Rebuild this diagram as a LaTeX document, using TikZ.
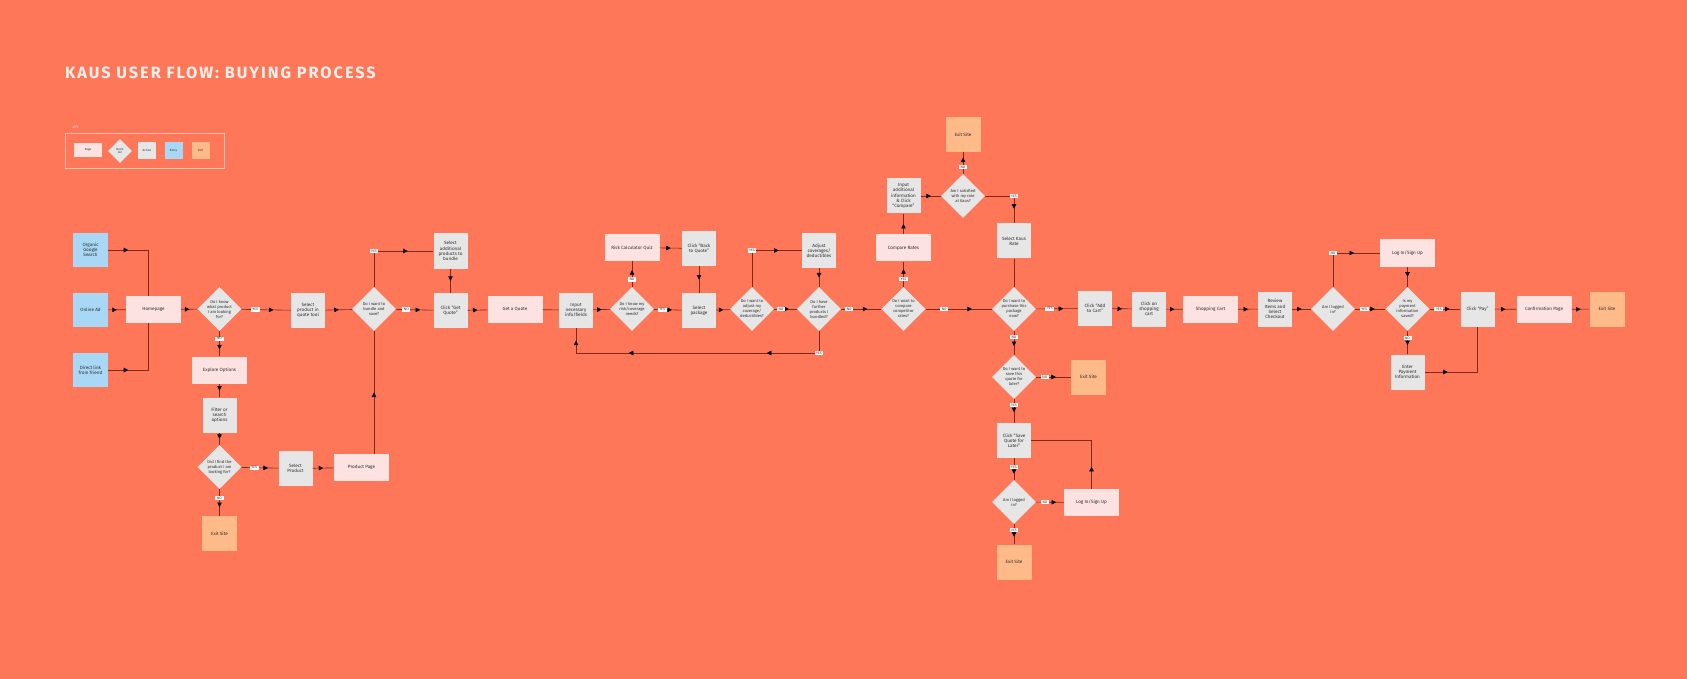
\documentclass[tikz,border=0pt]{standalone}
\usepackage{fontspec}
\setmainfont{Fira Sans}
\newfontfamily\titlefont[LetterSpace=12]{Fira Sans}
\usetikzlibrary{shapes.geometric,decorations.markings,arrows.meta}
\definecolor{bgc}{HTML}{FF7759}
\definecolor{pagec}{HTML}{FDE2E2}
\definecolor{actc}{HTML}{E6E6E6}
\definecolor{entryc}{HTML}{A8D8F6}
\definecolor{exitc}{HTML}{FFBA8A}
\definecolor{linec}{HTML}{7F2A18}
\definecolor{txtc}{HTML}{2B2B2B}
\definecolor{titlec}{HTML}{FFF1EA}
\tikzset{%
	box/.style = {align=center,inner sep=1pt,text=txtc,font=\fontsize{4.6}{5.2}\selectfont},
	page/.style = {box,fill=pagec,minimum width=55pt,minimum height=27pt},
	action/.style = {box,fill=actc,minimum width=34pt,minimum height=35pt},
	entry/.style = {box,fill=entryc,minimum width=35pt,minimum height=34pt},
	exitbox/.style = {box,fill=exitc,minimum width=35pt,minimum height=35pt},
	decision/.style = {diamond,aspect=1,fill=actc,align=center,inner sep=0pt,text=txtc,
		minimum width=44pt,minimum height=44pt,font=\fontsize{4.1}{5}\selectfont},
	flow/.style = {draw=linec,line width=0.6pt},
	arrowat/.style = {postaction={decorate,decoration={markings,
		mark=at position #1 with {\arrow[black]{Triangle[length=4.5pt,width=4.5pt]}}}}},
	arrowat/.default = 0.5,
	lbl/.style = {fill=white,inner xsep=1.6pt,inner ysep=0.9pt,text=txtc,font=\fontsize{3.5}{4}\selectfont},
	keyitem/.style = {font=\fontsize{3}{3.5}\selectfont}%
}
\begin{document}
\begin{tikzpicture}[x=1pt,y=-1pt]
	\useasboundingbox (0,0) rectangle (1687,679);
	\fill[bgc] (0,0) rectangle (1687,679);
	\node[anchor=base west,inner sep=0pt,text=titlec,font=\titlefont\bfseries\fontsize{16.3}{18}\selectfont] (title) at (65,79) {KAUS USER FLOW: BUYING PROCESS};
	
	% key
	\node[anchor=west,text=titlec,font=\fontsize{3.5}{4}\selectfont] (keytitle) at (69,127) {KEY};
	\draw[draw=titlec!60!bgc,line width=0.5pt] (65,133) rectangle (224,168);
	\node[page,keyitem,minimum width=28pt,minimum height=14pt] (keypage) at (88,150) {Page};
	\node[decision,keyitem,minimum width=24pt,minimum height=24pt] (keydecision) at (120,151) {Decis\\ion};
	\node[action,keyitem,minimum width=18pt,minimum height=17pt] (keyaction) at (147,150.5) {Action};
	\node[entry,keyitem,minimum width=18pt,minimum height=17pt] (keyentry) at (173.5,150.5) {Entry};
	\node[exitbox,keyitem,minimum width=18pt,minimum height=17pt] (keyexit) at (200.5,150.5) {Exit};
	
	% main row
	\node[entry] (organic) at (90.5,250) {Organic\\Google\\Search};
	\node[entry] (onlinead) at (90.5,310) {Online Ad};
	\node[entry] (direct) at (90.5,370) {Direct link\\from friend};
	\node[page] (homepage) at (153.5,309.5) {Homepage};
	\node[decision] (knowprod) at (219.5,309) {Do I know\\what product\\I am looking\\for?};
	\node[action] (selquote) at (308,310.5) {Select\\product in\\quote tool};
	\node[decision] (bundle) at (374,309) {Do I want to\\bundle and\\save?};
	\node[action] (seladd) at (450.5,251) {Select\\additional\\products to\\bundle};
	\node[action] (getquote) at (450.5,310.5) {Click “Get\\Quote”};
	\node[page] (aquote) at (515,309.5) {Get a Quote};
	\node[action] (necinfo) at (576,310) {Input\\necessary\\info/fields};
	\node[decision] (knowrisk) at (632,309) {Do I know my\\risk/coverage\\needs?};
	\node[page] (riskquiz) at (632,247.5) {Risk Calculator Quiz};
	\node[action] (backquote) at (699,248.5) {Click “Back\\to Quote”};
	\node[action] (selpack) at (699,310.5) {Select\\package};
	\node[decision] (adjust) at (752,309) {Do I want to\\adjust my\\coverage/\\deductibles?};
	\node[action] (adjcov) at (819,250.5) {Adjust\\coverages/\\deductibles};
	\node[decision] (further) at (819,309) {Do I have\\further\\products I\\bundled?};
	\node[decision] (comprates) at (903.5,309) {Do I want to\\compare\\competitor\\rates?};
	\node[page] (compare) at (903.5,248) {Compare Rates};
	\node[action] (inadd) at (903.5,196) {Input\\additional\\information\\\& Click\\“Compare”};
	\node[decision] (satisfied) at (963,196) {Am I satisfied\\with my rate\\at Kaus?};
	\node[exitbox] (exittop) at (963,134.5) {Exit Site};
	\node[action] (kausrate) at (1014,241) {Select Kaus\\Rate};
	\node[decision] (purchase) at (1014,309) {Do I want to\\purchase this\\package\\now?};
	\node[action] (addcart) at (1095,308.5) {Click “Add\\to Cart”};
	\node[action] (clickcart) at (1149,309) {Click on\\shopping\\cart};
	\node[page] (shopcart) at (1210.5,309.5) {Shopping Cart};
	\node[action] (review) at (1275,309) {Review\\Items and\\Select\\Checkout};
	\node[decision] (logged) at (1333,309) {Am I logged\\in?};
	\node[page] (login) at (1407.5,253) {Log In/Sign Up};
	\node[decision] (paysaved) at (1407.5,309) {Is my\\payment\\information\\saved?};
	\node[action] (pay) at (1477.5,309) {Click “Pay”};
	\node[page] (confirm) at (1544,309.5) {Confirmation Page};
	\node[exitbox] (exitend) at (1607,309) {Exit Site};
	\node[action] (enterpay) at (1407.5,372) {Enter\\Payment\\Information};
	
	% save for later
	\node[decision] (savelater) at (1014,377) {Do I want to\\save this\\quote for\\later?};
	\node[exitbox] (exitsave) at (1088.5,377) {Exit Site};
	\node[action] (savequote) at (1014,440.5) {Click “Save\\Quote for\\Later”};
	\node[decision] (loggedsave) at (1014,502) {Am I logged\\in?};
	\node[page] (loginsave) at (1091.5,502.5) {Log In/Sign Up};
	\node[exitbox] (exitbottom) at (1014,562) {Exit Site};
	
	% explore
	\node[page] (explore) at (219.5,370) {Explore Options};
	\node[action] (filter) at (219.5,415) {Filter or\\search\\options};
	\node[decision] (found) at (219.5,467) {Did I find the\\product I am\\looking for?};
	\node[action] (selprod) at (295.5,468.5) {Select\\Product};
	\node[page] (prodpage) at (361.5,467.5) {Product Page};
	\node[exitbox] (exitleft) at (219.5,533.5) {Exit Site};
	
	\coordinate (loopyes) at (819,353);
	
	\draw[flow,arrowat=20pt] (organic.east) -| ([xshift=-5.5pt]homepage.north);
	\draw[flow,arrowat=-9pt] (onlinead) -- (homepage);
	\draw[flow,arrowat=20pt] (direct.east) -| ([xshift=-5.5pt]homepage.south);
	\draw[flow,arrowat] (homepage) -- (knowprod);
	\draw[flow,arrowat=0.65] (knowprod) -- node[lbl,pos=0.28]{YES} (selquote);
	\draw[flow,arrowat] (selquote) -- (bundle);
	\draw[flow,arrowat=0.73] (bundle.north) |- node[lbl]{YES} (seladd.west);
	\draw[flow,arrowat] (seladd) -- (getquote);
	\draw[flow,arrowat=0.65] (bundle) -- node[lbl,pos=0.28]{NO} (getquote);
	\draw[flow,arrowat] (prodpage.north -| bundle.south) -- (bundle.south);
	\draw[flow,arrowat] (getquote) -- (aquote);
	\draw[flow] (aquote) -- (necinfo);
	\draw[flow,arrowat] (necinfo) -- (knowrisk);
	\draw[flow,arrowat=0.65] (knowrisk) -- node[lbl,pos=0.28]{NO} (riskquiz);
	\draw[flow,arrowat] (riskquiz) -- (backquote);
	\draw[flow,arrowat] (backquote) -- (selpack);
	\draw[flow,arrowat=0.65] (knowrisk) -- node[lbl,pos=0.3]{YES} (selpack);
	\draw[flow,arrowat] (selpack) -- (adjust);
	\draw[flow,arrowat=0.73] (adjust.north) |- node[lbl]{YES} (adjcov.west);
	\draw[flow,arrowat] (adjcov) -- (further);
	\draw[flow,arrowat=0.65] (adjust) -- node[lbl,pos=0.3]{NO} (further);
	\draw[flow,arrowat=74pt,arrowat=212pt,arrowat=-13pt] (further.south) -- (loopyes) node[lbl]{YES} -| (necinfo.south);
	\draw[flow,arrowat=0.65] (further) -- node[lbl,pos=0.2]{NO} (comprates);
	\draw[flow,arrowat=0.7] (comprates) -- node[lbl,pos=0.3]{YES} (compare);
	\draw[flow,arrowat] (compare) -- (inadd);
	\draw[flow,arrowat] (inadd) -- (satisfied);
	\draw[flow,arrowat=0.75] (satisfied) -- node[lbl,pos=0.3]{NO} (exittop);
	\draw[flow,arrowat=0.74] (satisfied.east) -| node[lbl]{YES} (kausrate.north);
	\draw[flow] (kausrate) -- (purchase);
	\draw[flow,arrowat=0.7] (comprates) -- node[lbl,pos=0.28]{NO} (purchase);
	\draw[flow,arrowat=0.65] (purchase) -- node[lbl,pos=0.33]{YES} (addcart);
	\draw[flow,arrowat] (addcart) -- (clickcart);
	\draw[flow,arrowat] (clickcart) -- (shopcart);
	\draw[flow,arrowat] (shopcart) -- (review);
	\draw[flow,arrowat] (review) -- (logged);
	\draw[flow,arrowat=0.68] (logged.north) |- node[lbl]{NO} (login.west);
	\draw[flow,arrowat] (login) -- (paysaved);
	\draw[flow,arrowat=0.65] (logged) -- node[lbl,pos=0.3]{YES} (paysaved);
	\draw[flow,arrowat=0.65] (paysaved) -- node[lbl,pos=0.3]{YES} (pay);
	\draw[flow,arrowat] (pay) -- (confirm);
	\draw[flow,arrowat] (confirm) -- (exitend);
	\draw[flow,arrowat=0.6] (paysaved) -- node[lbl,pos=0.3]{NO} (enterpay);
	\draw[flow,arrowat=23pt] (enterpay.east) -| (pay.south);
	
	\draw[flow,arrowat=0.63] (purchase) -- node[lbl,pos=0.25]{NO} (savelater);
	\draw[flow,arrowat=0.57] (savelater) -- node[lbl,pos=0.25]{NO} (exitsave);
	\draw[flow,arrowat=0.55] (savelater) -- node[lbl,pos=0.25]{YES} (savequote);
	\draw[flow,arrowat=0.72] (savequote) -- node[lbl,pos=0.4]{YES} (loggedsave);
	\draw[flow,arrowat=0.72] (loggedsave) -- node[lbl,pos=0.32]{NO} (loginsave);
	\draw[flow,arrowat=22pt] (loginsave.north) |- (savequote.east);
	\draw[flow,arrowat=0.62] (loggedsave) -- node[lbl,pos=0.3]{YES} (exitbottom);
	
	\draw[flow,arrowat=0.72] (knowprod) -- node[lbl,pos=0.3]{NO} (explore);
	\draw[flow,arrowat] (explore) -- (filter);
	\draw[flow,arrowat] (filter) -- (found);
	\draw[flow,arrowat=0.72] (found) -- node[lbl,pos=0.35]{YES} (selprod);
	\draw[flow,arrowat] (selprod) -- (prodpage);
	\draw[flow,arrowat=0.67] (found) -- node[lbl,pos=0.33]{NO} (exitleft);
\end{tikzpicture}
\end{document}
